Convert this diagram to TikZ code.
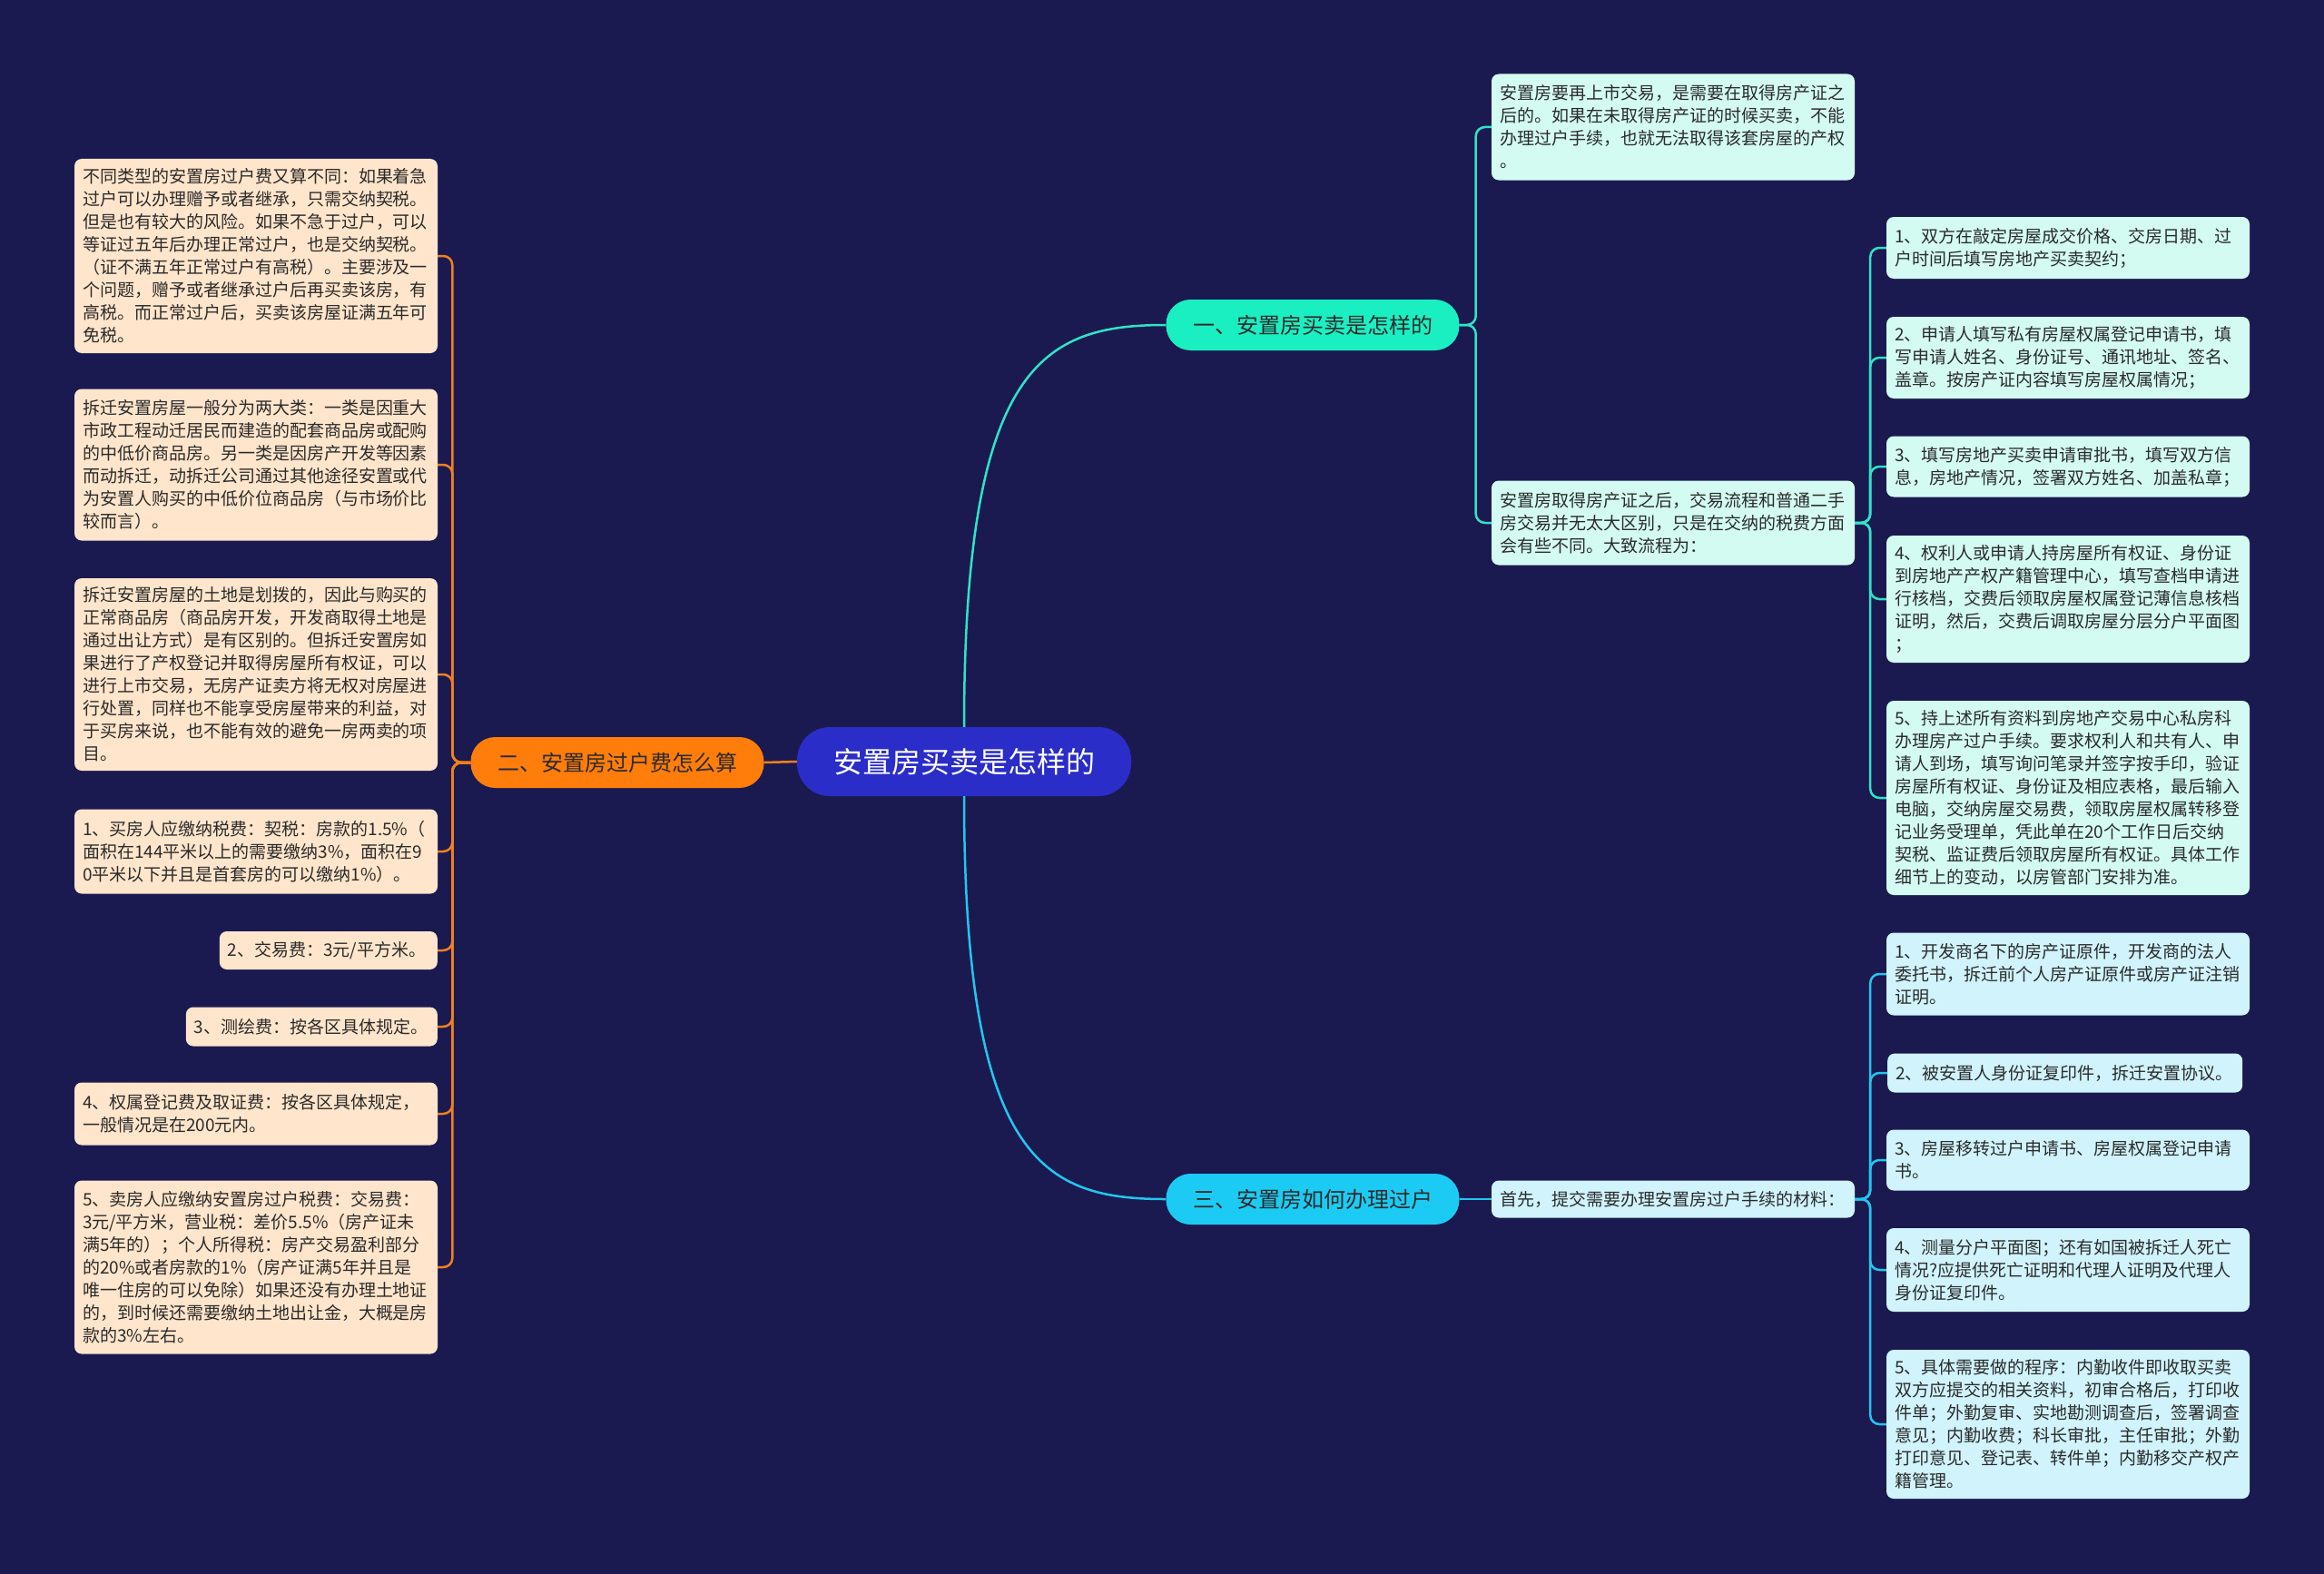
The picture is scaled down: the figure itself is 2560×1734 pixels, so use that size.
\documentclass[tikz,border=0pt]{standalone}
\usepackage{fontspec}
\newfontfamily\cjk{Noto Sans CJK SC}
\definecolor{bgnavy}{HTML}{1A1A50}
\definecolor{rootblue}{HTML}{2B2DC9}
\definecolor{tealfill}{HTML}{1AEFC2}
\definecolor{orangefill}{HTML}{FF7D0A}
\definecolor{cyanfill}{HTML}{1CCBF3}
\definecolor{tealline}{HTML}{2FE3C6}
\definecolor{orangeline}{HTML}{F2801E}
\definecolor{cyanline}{HTML}{22C6EF}
\definecolor{leafpeach}{HTML}{FFE5CB}
\definecolor{leafmint}{HTML}{D3FBF2}
\definecolor{leafsky}{HTML}{D0F3FC}
\definecolor{inktext}{HTML}{2B2B2B}
\begin{document}
\begin{tikzpicture}[x=1pt, y=-1pt,
  root/.style={fill=rootblue, text=white, rounded corners=36pt, minimum width=368pt, minimum height=76pt, inner sep=0pt, font=\cjk\fontsize{32}{36}\selectfont},
  topic/.style={rounded corners=27pt, minimum width=323pt, minimum height=56pt, inner sep=0pt, text=inktext, font=\cjk\fontsize{24}{28}\selectfont},
  leaf/.style={rounded corners=8pt, align=left, text width=382pt, inner xsep=9pt, inner ysep=0pt, text=inktext, font=\cjk\fontsize{19}{25}\selectfont},
  peach/.style={leaf, fill=leafpeach},
  mint/.style={leaf, fill=leafmint},
  sky/.style={leaf, fill=leafsky},
  link/.style={line width=2.5pt},
  elbow/.style={link, rounded corners=10pt},
]
  % background
  \fill[bgnavy] (0,0) rectangle (2560,1734);
  \useasboundingbox (0,0) rectangle (2560,1734);

  % centre and main topics
  \node[root] (root) at (1062,839) {安置房买卖是怎样的};
  \node[topic, fill=tealfill] (t1) at (1446,358) {一、安置房买卖是怎样的};
  \node[topic, fill=orangefill] (t2) at (680,840) {二、安置房过户费怎么算};
  \node[topic, fill=cyanfill] (t3) at (1446,1321) {三、安置房如何办理过户};

  % left: fees
  \node[peach, minimum height=214pt] (l1) at (282,282) {不同类型的安置房过户费又算不同：如果着急\\过户可以办理赠予或者继承，只需交纳契税。\\但是也有较大的风险。如果不急于过户，可以\\等证过五年后办理正常过户，也是交纳契税。\\（证不满五年正常过户有高税）。主要涉及一\\个问题，赠予或者继承过户后再买卖该房，有\\高税。而正常过户后，买卖该房屋证满五年可\\免税。};
  \node[peach, minimum height=167pt] (l2) at (282,512) {拆迁安置房屋一般分为两大类：一类是因重大\\市政工程动迁居民而建造的配套商品房或配购\\的中低价商品房。另一类是因房产开发等因素\\而动拆迁，动拆迁公司通过其他途径安置或代\\为安置人购买的中低价位商品房（与市场价比\\较而言）。};
  \node[peach, minimum height=212pt] (l3) at (282,743) {拆迁安置房屋的土地是划拨的，因此与购买的\\正常商品房（商品房开发，开发商取得土地是\\通过出让方式）是有区别的。但拆迁安置房如\\果进行了产权登记并取得房屋所有权证，可以\\进行上市交易，无房产证卖方将无权对房屋进\\行处置，同样也不能享受房屋带来的利益，对\\于买房来说，也不能有效的避免一房两卖的项\\目。};
  \node[peach, minimum height=93pt] (l4) at (282,938) {1、买房人应缴纳税费：契税：房款的1.5\%（\\面积在144平米以上的需要缴纳3\%，面积在9\\0平米以下并且是首套房的可以缴纳1\%）。};
  \node[peach, text width=222pt, minimum height=42pt, anchor=east] (l5) at (482,1047) {2、交易费：3元/平方米。};
  \node[peach, text width=259pt, minimum height=43pt, anchor=east] (l6) at (482,1131) {3、测绘费：按各区具体规定。};
  \node[peach, minimum height=69pt] (l7) at (282,1227) {4、权属登记费及取证费：按各区具体规定，\\一般情况是在200元内。};
  \node[peach, minimum height=191pt] (l8) at (282,1396) {5、卖房人应缴纳安置房过户税费：交易费：\\3元/平方米，营业税：差价5.5\%（房产证未\\满5年的）；个人所得税：房产交易盈利部分\\的20\%或者房款的1\%（房产证满5年并且是\\唯一住房的可以免除）如果还没有办理土地证\\的，到时候还需要缴纳土地出让金，大概是房\\款的3\%左右。};

  % right, upper: trading
  \node[mint, minimum height=117pt] (r1a) at (1843,140) {安置房要再上市交易，是需要在取得房产证之\\后的。如果在未取得房产证的时候买卖，不能\\办理过户手续，也就无法取得该套房屋的产权\\。};
  \node[mint, minimum height=93pt] (r1b) at (1843,576) {安置房取得房产证之后，交易流程和普通二手\\房交易并无太大区别，只是在交纳的税费方面\\会有些不同。大致流程为：};
  \node[mint, minimum height=68pt] (c1) at (2278,273) {1、双方在敲定房屋成交价格、交房日期、过\\户时间后填写房地产买卖契约；};
  \node[mint, minimum height=90pt] (c2) at (2278,394) {2、申请人填写私有房屋权属登记申请书，填\\写申请人姓名、身份证号、通讯地址、签名、\\盖章。按房产证内容填写房屋权属情况；};
  \node[mint, minimum height=67pt] (c3) at (2278,514) {3、填写房地产买卖申请审批书，填写双方信\\息，房地产情况，签署双方姓名、加盖私章；};
  \node[mint, minimum height=140pt] (c4) at (2278,660) {4、权利人或申请人持房屋所有权证、身份证\\到房地产产权产籍管理中心，填写查档申请进\\行核档，交费后领取房屋权属登记薄信息核档\\证明，然后，交费后调取房屋分层分户平面图\\；};
  \node[mint, minimum height=214pt] (c5) at (2278,879) {5、持上述所有资料到房地产交易中心私房科\\办理房产过户手续。要求权利人和共有人、申\\请人到场，填写询问笔录并签字按手印，验证\\房屋所有权证、身份证及相应表格，最后输入\\电脑，交纳房屋交易费，领取房屋权属转移登\\记业务受理单，凭此单在20个工作日后交纳\\契税、监证费后领取房屋所有权证。具体工作\\细节上的变动，以房管部门安排为准。};

  % right, lower: transfer
  \node[sky, minimum height=41pt] (r3a) at (1843,1321) {首先，提交需要办理安置房过户手续的材料：};
  \node[sky, minimum height=91pt] (d1) at (2278,1073) {1、开发商名下的房产证原件，开发商的法人\\委托书，拆迁前个人房产证原件或房产证注销\\证明。};
  \node[sky, text width=373pt, minimum height=43pt, anchor=west] (d2) at (2079,1182) {2、被安置人身份证复印件，拆迁安置协议。};
  \node[sky, minimum height=67pt] (d3) at (2278,1278) {3、房屋移转过户申请书、房屋权属登记申请\\书。};
  \node[sky, minimum height=92pt] (d4) at (2278,1399) {4、测量分户平面图；还有如国被拆迁人死亡\\情况?应提供死亡证明和代理人证明及代理人\\身份证复印件。};
  \node[sky, minimum height=164pt] (d5) at (2278,1569) {5、具体需要做的程序：内勤收件即收取买卖\\双方应提交的相关资料，初审合格后，打印收\\件单；外勤复审、实地勘测调查后，签署调查\\意见；内勤收费；科长审批，主任审批；外勤\\打印意见、登记表、转件单；内勤移交产权产\\籍管理。};

  % connectors
  \draw[link, tealline] (root.north) .. controls (1062,400) and (1150,358) .. (t1.west);
  \draw[link, orangeline] (root.west) -- (t2.east);
  \draw[link, cyanline] (root.south) .. controls (1062,1280) and (1150,1321) .. (t3.west);
  \foreach \k in {r1a,r1b} \draw[elbow, tealline] (t1.east) -- ++(18,0) |- (\k.west);
  \foreach \k in {1,...,5} \draw[elbow, tealline] (r1b.east) -- ++(17,0) |- (c\k.west);
  \foreach \k in {1,...,8} \draw[elbow, orangeline] (t2.west) -- ++(-20,0) |- (l\k.east);
  \draw[link, cyanline] (t3.east) -- (r3a.west);
  \foreach \k in {1,...,5} \draw[elbow, cyanline] (r3a.east) -- ++(17,0) |- (d\k.west);
\end{tikzpicture}
\end{document}
